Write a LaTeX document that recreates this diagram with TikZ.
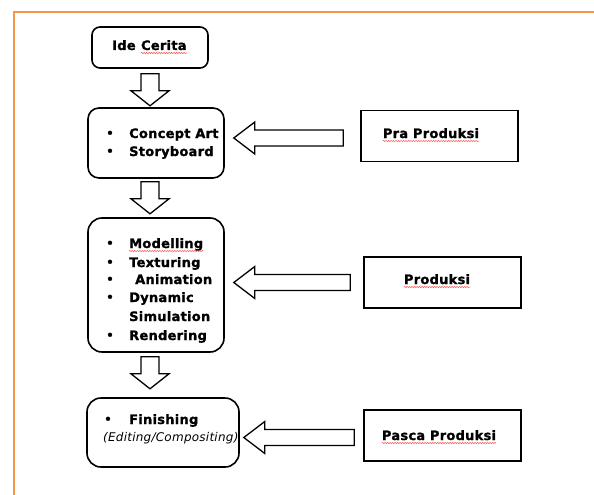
\documentclass[tikz,border=0pt]{standalone}
\usepackage{fontspec}
\setmainfont{DejaVu Sans}[LetterSpace=2,BoldFeatures={FakeBold=1.2}]
\newfontfamily\plainfont{DejaVu Sans}[FakeBold=1.5]
\usetikzlibrary{calc,decorations.pathmorphing}
\definecolor{frameorange}{HTML}{F79646}
\begin{document}
\begin{tikzpicture}[x=1pt,y=-1pt,
  rbox/.style={draw=black,line width=1.6pt,rounded corners=#1,inner sep=0pt},
  sbox/.style={draw=black,line width=1.6pt,inner sep=0pt},
  item/.style={anchor=base west,inner sep=0pt,font=\bfseries\fontsize{13}{15}\selectfont},
  bul/.style={anchor=base,inner sep=0pt,font=\plainfont\fontsize{14}{15}\selectfont},
  lbl/.style={anchor=base,inner sep=0pt,font=\bfseries\fontsize{13}{15}\selectfont},
  wavy/.style={draw=red!70,line width=0.5pt,decorate,decoration={snake,amplitude=0.6pt,segment length=2.5pt}},
  fat/.style={draw=black,line width=1.3pt,fill=white,line join=miter}]
\useasboundingbox (0,0) rectangle (594,495);
\fill[white] (0,0) rectangle (594,495);
\draw[frameorange,line width=1.4pt] (14,495) -- (14,12) -- (594,12);

% boxes
\node[rbox=8pt,minimum width=116pt,minimum height=41pt] (ide) at (150,47.5) {};
\node[rbox=11pt,minimum width=136pt,minimum height=70pt] (b2) at (156,143) {};
\node[rbox=14pt,minimum width=136pt,minimum height=134pt] (b3) at (156,285) {};
\node[rbox=14pt,minimum width=152pt,minimum height=69pt] (b4) at (163,432.5) {};
\node[sbox,minimum width=157pt,minimum height=51pt] (pra) at (439.5,136) {};
\node[sbox,minimum width=157pt,minimum height=51pt] (pro) at (442.5,282.5) {};
\node[sbox,minimum width=157pt,minimum height=51pt] (pas) at (442.5,435.5) {};

% texts
\node[item] (tide1) at (112,50) {Ide};
\node[item] (tide2) at ($(tide1.base east)+(5,0)$) {Cerita};
\node[bul] (c1) at (110,138) {•};
\node[item] (t1) at (129,138) {Concept Art};
\node[bul] (c2) at (110,156) {•};
\node[item] (t2) at (129,156) {Storyboard};

\node[bul] (m1) at (110,248) {•};
\node[item] (u1) at (129,248) {Modelling};
\node[bul] (m2) at (110,267) {•};
\node[item] (u2) at (129,267) {Texturing};
\node[bul] (m3) at (110,284) {•};
\node[item] (u3) at (135,284) {Animation};
\node[bul] (m4) at (110,302) {•};
\node[item] (u4) at (129,302) {Dynamic};
\node[item] (u5) at (129,321) {Simulation};
\node[bul] (m6) at (110,340) {•};
\node[item] (u6) at (129,340) {Rendering};

\node[bul] (f1) at (108,424) {•};
\node[item] (v1) at (129,424) {Finishing};
\node[anchor=base west,inner sep=0pt,font=\itshape\fontsize{12}{13}\selectfont] (v2) at (103,441.5) {(Editing/Compositing)};

\node[lbl] (tpra) at (431,138) {Pra Produksi};
\node[lbl] (tpro) at (437,284) {Produksi};
\node[lbl] (tpas) at (439,440) {Pasca Produksi};

% spelling marks
\foreach \n in {tide2,u1,tpra,tpro,tpas}{
  \draw[wavy] ($(\n.base west)+(0,3)$) -- ($(\n.base east)+(0,3)$);
}

% down arrows
\coordinate (d1) at ($(ide.south)+(0,5)$);
\coordinate (d2) at ($(ide.south |- b2.south)+(0,3)$);
\coordinate (d3) at ($(ide.south |- b3.south)+(0,4)$);
\foreach \d in {d1,d2,d3}{
  \draw[fat] ($(\d)+(-9,0)$) -- ($(\d)+(-9,17)$) -- ($(\d)+(-19,17)$) -- ($(\d)+(0,32)$)
    -- ($(\d)+(19,17)$) -- ($(\d)+(9,17)$) -- ($(\d)+(9,0)$) -- cycle;
}

% left arrows
\coordinate (p1) at ($(b2.east |- pra.west)+(9,2)$);
\coordinate (q1) at ($(pra.west)+(-17,2)$);
\coordinate (p2) at ($(b3.east |- pro.west)+(9,0)$);
\coordinate (q2) at ($(pro.west)+(-13,0)$);
\coordinate (p3) at ($(b4.east |- pas.west)+(4,2)$);
\coordinate (q3) at ($(pas.west)+(-9,2)$);
\foreach \p/\q in {p1/q1,p2/q2,p3/q3}{
  \draw[fat] (\p) -- ($(\p)+(21,-16)$) -- ($(\p)+(21,-8)$) -- ($(\q)+(0,-8)$)
    -- ($(\q)+(0,8)$) -- ($(\p)+(21,8)$) -- ($(\p)+(21,16)$) -- cycle;
}
\end{tikzpicture}
\end{document}
